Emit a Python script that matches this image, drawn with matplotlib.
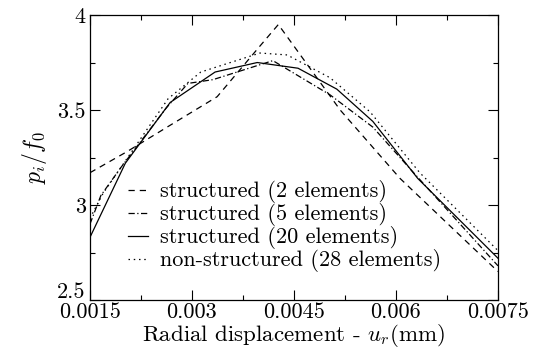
import numpy as np
import matplotlib
matplotlib.use("Agg")
import matplotlib.pyplot as plt
from matplotlib.ticker import MultipleLocator, FixedLocator, FixedFormatter

plt.rcParams["font.family"] = "serif"
plt.rcParams["font.serif"] = ["cmr10"]
plt.rcParams["mathtext.fontset"] = "cm"
plt.rcParams["axes.formatter.use_mathtext"] = True

# structured, 2 elements
x_s2 = [0.0015, 0.00204, 0.00268, 0.00337, 0.00396, 0.00427, 0.00518, 0.00606, 0.0075]
y_s2 = [3.17, 3.28, 3.42, 3.57, 3.82, 3.95, 3.50, 3.14, 2.65]

# structured, 5 elements
x_s5 = [0.0015, 0.00166, 0.00196, 0.00262, 0.00294, 0.00331, 0.00419, 0.00503, 0.00566, 0.00631, 0.0075]
y_s5 = [2.90, 3.05, 3.20, 3.51, 3.64, 3.66, 3.76, 3.58, 3.41, 3.15, 2.68]

# structured, 20 elements
x_s20 = [0.0015, 0.00202, 0.00268, 0.00334, 0.00396, 0.00456, 0.00513, 0.00566, 0.00632, 0.0075]
y_s20 = [2.83, 3.22, 3.54, 3.70, 3.75, 3.72, 3.61, 3.44, 3.14, 2.72]

# non-structured, 28 elements
x_ns = [0.0015, 0.00169, 0.00265, 0.00313, 0.0040, 0.00440, 0.00503, 0.00562, 0.00635, 0.0075]
y_ns = [2.93, 3.06, 3.56, 3.70, 3.80, 3.79, 3.67, 3.49, 3.17, 2.76]

labels = ["structured (2 elements)", "structured (5 elements)",
          "structured (20 elements)", "non-structured (28 elements)"]

fig = plt.figure(figsize=(5.34, 3.58), dpi=100)
ax = fig.add_axes([0.1685, 0.162, 0.764, 0.796])

lw = 0.9
ax.plot(x_s2, y_s2, color="k", lw=lw, ls=(0, (5, 4)), label=labels[0])
ax.plot(x_s5, y_s5, color="k", lw=lw, ls=(0, (5, 2, 1, 2)), label=labels[1])
ax.plot(x_s20, y_s20, color="k", lw=lw, ls="-", label=labels[2])
ax.plot(x_ns, y_ns, color="k", lw=lw, ls=(0, (1.2, 3)), label=labels[3])

ax.set_xlim(0.0015, 0.0075)
ax.set_ylim(2.5, 4.0)

xt = [0.0015, 0.003, 0.0045, 0.006, 0.0075]
ax.xaxis.set_major_locator(FixedLocator(xt))
ax.xaxis.set_major_formatter(FixedFormatter(["0.0015", "0.003", "0.0045", "0.006", "0.0075"]))
ax.xaxis.set_minor_locator(MultipleLocator(0.00075))
yt = [2.5, 3.0, 3.5, 4.0]
ax.yaxis.set_major_locator(FixedLocator(yt))
# the lowest label ("2.5") is drawn separately, nudged up so it clears "0.0015"
ax.yaxis.set_major_formatter(FixedFormatter(["", "3", "3.5", "4"]))
ax.yaxis.set_minor_locator(MultipleLocator(0.25))

ax.tick_params(which="both", direction="in", top=True, right=True, labelsize=16)
ax.tick_params(axis="x", which="major", length=7, width=0.8, pad=2)
ax.tick_params(axis="y", which="major", length=7, width=0.8, pad=3)
ax.tick_params(which="minor", length=3.5, width=0.8)
for s in ax.spines.values():
    s.set_linewidth(0.9)

ax.annotate("2.5", xy=(0.0015, 2.5), xytext=(-3, -1.5), textcoords="offset points",
            ha="right", va="bottom", fontsize=16)

ax.set_xlabel("Radial displacement - $u_r$(mm)", fontsize=16.5, labelpad=0)
ax.set_ylabel("$p_i/f_0$", fontsize=17, labelpad=6)

ax.legend(loc="upper left", bbox_to_anchor=(0.093, 0.42), frameon=False,
          fontsize=16, handlelength=0.9, handletextpad=0.55, labelspacing=0.0,
          borderaxespad=0, borderpad=0)

fig.savefig("out.png", dpi=100)
